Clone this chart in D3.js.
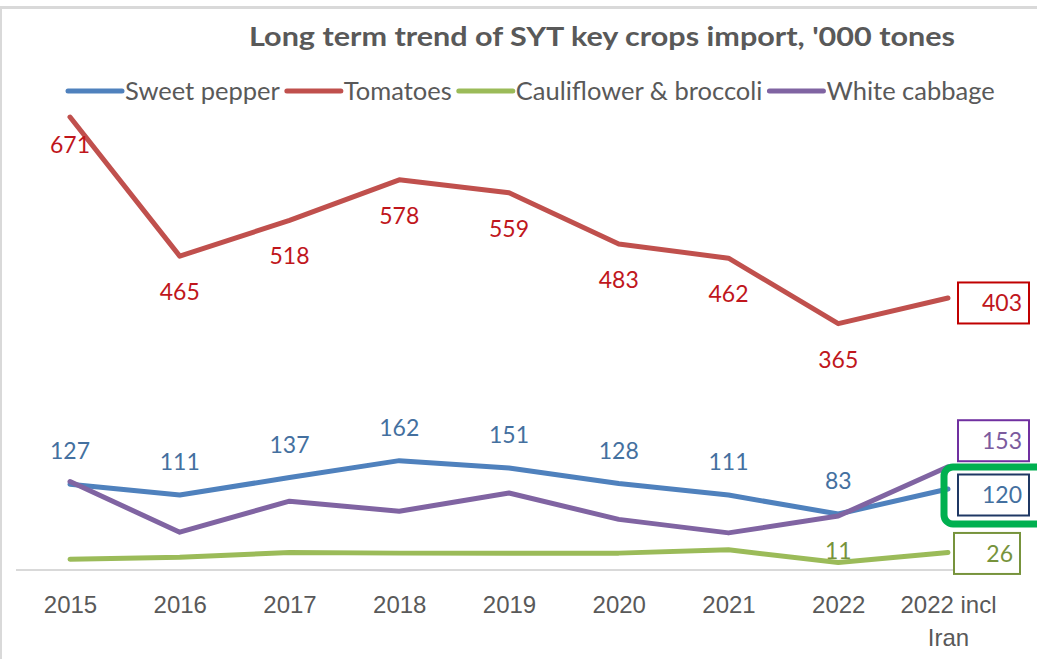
<!DOCTYPE html>
<html>
<head>
<meta charset="utf-8">
<script src="https://cdn.jsdelivr.net/npm/d3@7"></script>
<style>
  body { margin: 0; background: #fff; }
  svg { display: block; font-family: Lato, "Open Sans", sans-serif; }
</style>
</head>
<body>
<div id="chart"></div>
<script>
// data
const categories = ["2015", "2016", "2017", "2018", "2019", "2020", "2021", "2022", "2022 incl Iran"];
const seriesNames = ["Sweet pepper", "Tomatoes", "Cauliflower & broccoli", "White cabbage"];
const sweetPepper = [127, 111, 137, 162, 151, 128, 111, 83, 120];
const tomatoes = [671, 465, 518, 578, 559, 483, 462, 365, 403];
const cauliflower = [16, 19, 26, 25, 25, 25, 30, 11, 26];
const whiteCabbage = [131, 56, 102, 87, 114, 75, 55, 80, 153];

const width = 1037, height = 659;
const svg = d3.select("#chart").append("svg")
  .attr("width", width)
  .attr("height", height);

// outer frame of the chart object
svg.append("rect")
  .attr("x", 0.5).attr("y", 7.5)
  .attr("width", width + 10).attr("height", height)
  .attr("fill", "none")
  .attr("stroke", "#d9d9d9")
  .attr("stroke-width", 3);

const x = d3.scalePoint()
  .domain(categories)
  .range([70, 948]);

const y = d3.scaleLinear()
  .domain([0, 700])
  .range([570, 97.5]);

// series styling
const series = [
  { name: seriesNames[0], values: sweetPepper, color: "#4f81bd", label: "#44709f", labelPos: "above", labelIdx: [0,1,2,3,4,5,6,7], box: "#1f3864", boxDy: 6 },
  { name: seriesNames[1], values: tomatoes, color: "#c0504d", label: "#c0161c", labelPos: "below", labelIdx: [0,1,2,3,4,5,6,7], box: "#c00000", boxDy: 5 },
  { name: seriesNames[2], values: cauliflower, color: "#9bbb59", label: "#77933c", labelPos: "above", labelIdx: [7], box: "#77933c", boxDy: 1 },
  { name: seriesNames[3], values: whiteCabbage, color: "#8064a2", label: "#7b5b9e", labelPos: "none", labelIdx: [], box: "#7030a0", boxDy: -26 }
];

// title
svg.append("text")
  .attr("x", 249)
  .attr("y", 46)
  .attr("fill", "#595959")
  .attr("font-weight", "bold")
  .attr("textLength", 706)
  .attr("lengthAdjust", "spacingAndGlyphs")
  .style("font-size", "27px")
  .text("Long term trend of SYT key crops import, '000 tones");

// legend
const legend = svg.append("g").attr("transform", "translate(68, 91)");
let lx = 0;
series.forEach(s => {
  legend.append("line")
    .attr("x1", lx).attr("x2", lx + 54)
    .attr("y1", 0).attr("y2", 0)
    .attr("stroke", s.color)
    .attr("stroke-width", 5)
    .attr("stroke-linecap", "round");
  const t = legend.append("text")
    .attr("x", lx + 57)
    .attr("y", 0)
    .attr("dy", "0.35em")
    .attr("fill", "#595959")
    .style("font-size", "25.5px")
    .text(s.name);
  lx += 57 + t.node().getComputedTextLength() + 7;
});

// baseline
svg.append("line")
  .attr("x1", 16).attr("x2", 1003)
  .attr("y1", y(0)).attr("y2", y(0))
  .attr("stroke", "#d9d9d9")
  .attr("stroke-width", 2);

// x axis labels
const xAxis = svg.append("g")
  .attr("transform", `translate(0,${y(0)})`)
  .call(d3.axisBottom(x).tickSize(0).tickPadding(0));
xAxis.select(".domain").remove();
xAxis.selectAll("text").remove();
xAxis.selectAll(".tick").each(function(d) {
  const parts = d === "2022 incl Iran" ? ["2022 incl", "Iran"] : [d];
  const t = d3.select(this).append("text")
    .attr("text-anchor", "middle")
    .attr("fill", "#595959")
    .style("font-size", "24px");
  parts.forEach((p, i) => {
    t.append("tspan")
      .attr("x", 0)
      .attr("y", 43 + i * 33)
      .text(p);
  });
});

const line = d3.line()
  .x((d, i) => x(categories[i]))
  .y(d => y(d));

// draw in excel order, cabbage on top
series.forEach(s => {
  svg.append("path")
    .datum(s.values)
    .attr("fill", "none")
    .attr("stroke", s.color)
    .attr("stroke-width", 5)
    .attr("stroke-linejoin", "round")
    .attr("stroke-linecap", "round")
    .attr("d", line);
});

// data labels
series.forEach(s => {
  s.labelIdx.forEach(i => {
    let off = s.labelPos === "below" ? 36 : (s.name === seriesNames[2] ? -12 : -33);
    if (s.name === seriesNames[1] && i === 0) off = 28; // excel nudged it inside the plot
    svg.append("text")
      .attr("x", x(categories[i]))
      .attr("y", y(s.values[i]) + off)
      .attr("dy", "0.35em")
      .attr("text-anchor", "middle")
      .attr("fill", s.label)
      .style("font-size", "23px")
      .text(s.values[i]);
  });
});

// boxed labels on the last point
const last = categories.length - 1;
series.forEach(s => {
  const cy = y(s.values[last]) + s.boxDy;
  const bx = s.name === seriesNames[2] ? x(categories[last]) + 6 : x(categories[last]) + 10;
  const bw = s.name === seriesNames[2] ? 66 : 71;
  svg.append("rect")
    .attr("x", bx).attr("y", cy - 20.5)
    .attr("width", bw).attr("height", 41)
    .attr("fill", "#fff")
    .attr("stroke", s.box)
    .attr("stroke-width", 2);
  svg.append("text")
    .attr("x", bx + bw - 7)
    .attr("y", cy)
    .attr("dy", "0.35em")
    .attr("text-anchor", "end")
    .attr("fill", s.label)
    .style("font-size", "23px")
    .text(s.values[last]);
});

// green highlight around the sweet pepper box
const hy = y(sweetPepper[last]) + 6;
svg.append("rect")
  .attr("x", x(categories[last]) - 4)
  .attr("y", hy - 28)
  .attr("width", 110)
  .attr("height", 57)
  .attr("rx", 9)
  .attr("fill", "none")
  .attr("stroke", "#00b050")
  .attr("stroke-width", 7);
</script>
</body>
</html>
